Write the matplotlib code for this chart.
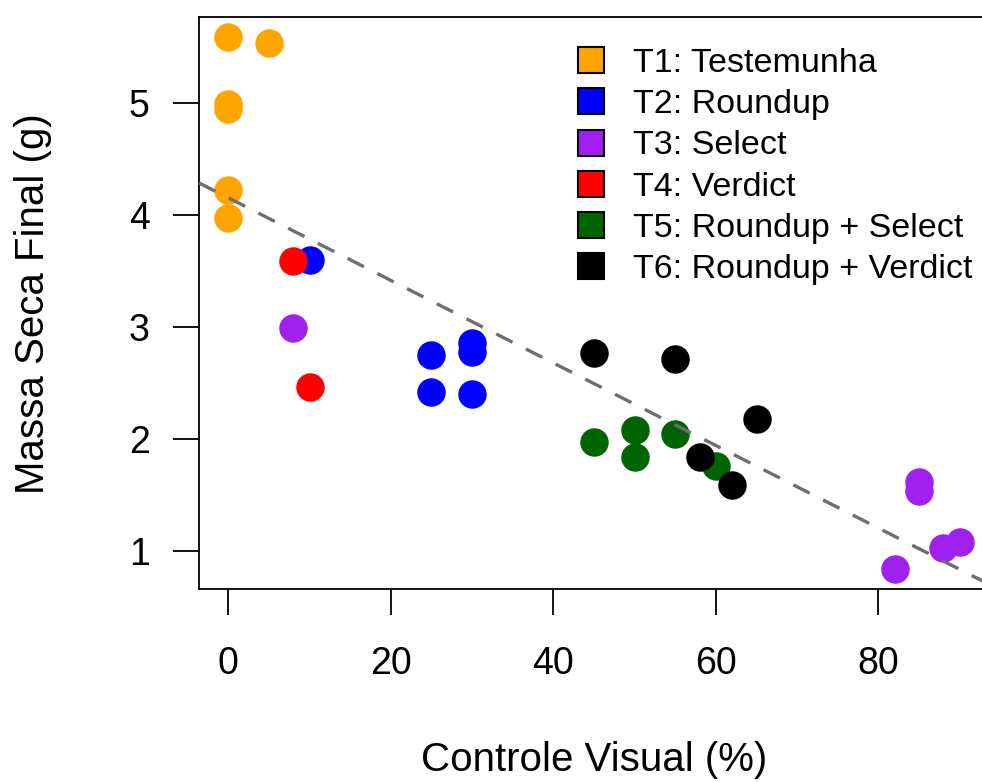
import matplotlib
matplotlib.use("Agg")
import matplotlib.pyplot as plt
from matplotlib.lines import Line2D

plt.rcParams['font.family'] = ['Liberation Sans', 'DejaVu Sans']

labels = ["T1: Testemunha", "T2: Roundup", "T3: Select", "T4: Verdict",
          "T5: Roundup + Select", "T6: Roundup + Verdict"]
colors = ["#FFA500", "#0000FF", "#A020F0", "#FF0000", "#006400", "#000000"]

t1_x = [0, 5, 0, 0, 0, 0]
t1_y = [5.59, 5.54, 4.99, 4.95, 4.22, 3.97]
t2_x = [10, 25, 25, 30, 30, 30]
t2_y = [3.60, 2.75, 2.42, 2.86, 2.78, 2.40]
t3_x = [8, 82, 85, 85, 88, 90]
t3_y = [2.99, 0.84, 1.61, 1.53, 1.02, 1.08]
t4_x = [8, 10]
t4_y = [3.59, 2.46]
t5_x = [45, 50, 50, 55, 60]
t5_y = [1.97, 2.08, 1.84, 2.04, 1.76]
t6_x = [45, 55, 58, 62, 65]
t6_y = [2.77, 2.71, 1.84, 1.59, 2.18]

series_x = [t1_x, t2_x, t3_x, t4_x, t5_x, t6_x]
series_y = [t1_y, t2_y, t3_y, t4_y, t5_y, t6_y]

# fitted line
fit_intercept = 4.154
fit_slope = -0.0369

xticks = [0, 20, 40, 60, 80]
yticks = [1, 2, 3, 4, 5]

W, H = 982, 782
fig = plt.figure(figsize=(W / 100, H / 100), dpi=100)
ax = fig.add_axes([199 / W, (H - 589.3) / H, (989 - 199) / W, (589.3 - 17) / H])

for xs, ys, c in zip(series_x, series_y, colors):
    ax.scatter(xs, ys, s=420, color=c, marker='o', linewidths=0, zorder=3)

ax.axline((0, fit_intercept), slope=fit_slope, color='#6e6e6e', lw=2.4,
          dashes=(5.5, 4.5), zorder=4)

ax.set_xlim(-3.6, 93.6)
ax.set_ylim(0.655, 5.77)
ax.set_xticks(xticks)
ax.set_yticks(yticks)
ax.tick_params(axis='both', direction='out', length=18.5, width=1.3,
               labelsize=27, colors='black')
ax.tick_params(axis='x', pad=22)
ax.tick_params(axis='y', pad=17)
for sp in ax.spines.values():
    sp.set_linewidth(1.3)

ax.set_xlabel("Controle Visual (%)", fontsize=29, labelpad=43)
ax.set_ylabel("Massa Seca Final (g)", fontsize=29, labelpad=55)

handles = [Line2D([], [], marker='s', linestyle='none', markersize=18.5,
                  markerfacecolor=c, markeredgecolor='black', markeredgewidth=1.5)
           for c in colors]
leg = ax.legend(handles, labels, loc='upper left',
                bbox_to_anchor=(574 / W, 1 - 48 / H), bbox_transform=fig.transFigure,
                frameon=False, fontsize=24.5, handlelength=1.0, handletextpad=0.72,
                labelspacing=0.30, borderpad=0, borderaxespad=0)

fig.savefig("out.png", dpi=100)
